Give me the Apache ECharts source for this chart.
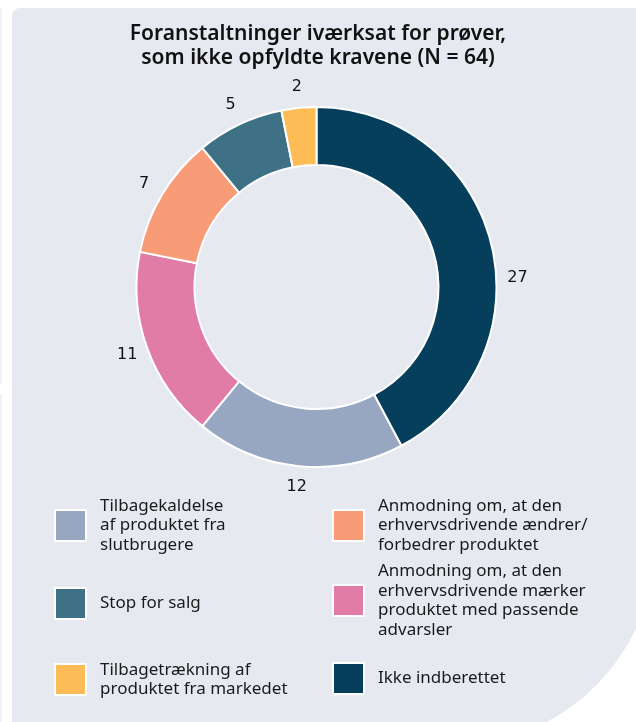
<!DOCTYPE html>
<html>
<head>
<meta charset="utf-8">
<script src="https://cdn.jsdelivr.net/npm/echarts@6/dist/echarts.min.js"></script>
<style>
  html, body { margin: 0; padding: 0; background: #ffffff; overflow: hidden; }
  #chart { width: 636px; height: 722px; }
</style>
</head>
<body>
<div id="chart"></div>
<script>
const titleText = 'Foranstaltninger iværksat for prøver,\nsom ikke opfyldte kravene (N = 64)';
const categories = [
  'Ikke indberettet',
  'Tilbagekaldelse af produktet fra slutbrugere',
  'Anmodning om, at den erhvervsdrivende mærker produktet med passende advarsler',
  'Anmodning om, at den erhvervsdrivende ændrer/forbedrer produktet',
  'Stop for salg',
  'Tilbagetrækning af produktet fra markedet'
];
const values = [27, 12, 11, 7, 5, 2];
const legendLabels = [
  'Ikke indberettet',
  'Tilbagekaldelse\naf produktet fra\nslutbrugere',
  'Anmodning om, at den\nerhvervsdrivende mærker\nproduktet med passende\nadvarsler',
  'Anmodning om, at den\nerhvervsdrivende ændrer/\nforbedrer produktet',
  'Stop for salg',
  'Tilbagetrækning af\nproduktet fra markedet'
];
const colors = ['#053f5c', '#97a7c2', '#e07ca6', '#f89b77', '#3f7186', '#fdbc55'];

const chart = echarts.init(document.getElementById('chart'), null, { renderer: 'canvas' });

const pieData = categories.map((c, i) => ({ name: c, value: values[i], itemStyle: { color: colors[i] } }));
const labelMap = {};
categories.forEach((c, i) => { labelMap[c] = legendLabels[i]; });

const LH = 19.5;
function legendFor(idx, left, centerY) {
  const lines = legendLabels[idx].split('\n').length;
  const h = Math.max(31, lines * LH);
  return {
    data: [categories[idx]],
    left: left,
    top: centerY - h / 2,
    orient: 'vertical',
    padding: 0,
    icon: 'rect',
    itemWidth: 31,
    itemHeight: 31,
    itemGap: 0,
    selectedMode: false,
    formatter: name => labelMap[name],
    textStyle: {
      fontFamily: "'Noto Sans', 'Open Sans', sans-serif",
      fontSize: 17,
      lineHeight: LH,
      color: '#1a1a1a',
      padding: [0, 0, 0, 9]
    }
  };
}

const option = {
  backgroundColor: '#ffffff',
  animation: false,
  title: {
    text: titleText,
    left: 'center',
    top: 17,
    textStyle: {
      fontFamily: "'Noto Sans', 'Open Sans', sans-serif",
      fontSize: 21,
      fontWeight: 600,
      lineHeight: 24,
      color: '#111111'
    }
  },
  graphic: [
    { type: 'rect', z: -10, silent: true, shape: { x: 12, y: 8, width: 644, height: 738, r: [8, 0, 206, 0] }, style: { fill: '#e6e9f0' } },
    { type: 'rect', z: -10, silent: true, shape: { x: 0, y: 8, width: 2, height: 376, r: [2, 0, 0, 2] }, style: { fill: '#f1f3f7' } },
    { type: 'rect', z: -10, silent: true, shape: { x: 0, y: 394, width: 2, height: 328 }, style: { fill: '#f1f3f7' } }
  ],
  legend: [
    legendFor(1, 54, 525.5),
    legendFor(4, 54, 602.5),
    legendFor(5, 54, 679.5),
    legendFor(3, 332, 525.5),
    legendFor(2, 332, 600.5),
    legendFor(0, 332, 677.5)
  ],
  series: [
    {
      type: 'pie',
      center: [316.5, 287],
      radius: [122, 180],
      startAngle: 90,
      clockwise: true,
      silent: true,
      label: { show: false },
      labelLine: { show: false },
      itemStyle: { borderColor: '#ffffff', borderWidth: 2 },
      data: pieData
    },
    {
      type: 'pie',
      center: [316.5, 287],
      radius: [183, 213],
      startAngle: 90,
      clockwise: true,
      silent: true,
      itemStyle: { color: 'rgba(0,0,0,0)', borderWidth: 0 },
      label: {
        show: true,
        position: 'inside',
        formatter: p => String(p.value),
        fontFamily: "'DejaVu Sans', sans-serif",
        fontSize: 16,
        color: '#111111'
      },
      labelLine: { show: false },
      labelLayout: function (p) {
        if (p.dataIndex === 0) { return { dx: 6, dy: 40 }; }
        return {};
      },
      data: categories.map((c, i) => ({ name: c, value: values[i] }))
    }
  ]
};
chart.setOption(option);
</script>
</body>
</html>
